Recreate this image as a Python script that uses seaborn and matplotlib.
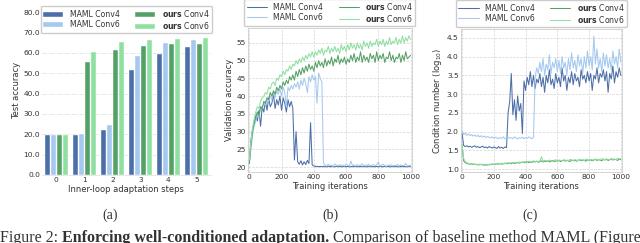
import numpy as np
import pandas as pd
import seaborn as sns
import matplotlib
matplotlib.use("Agg")
import matplotlib.pyplot as plt

# (a) test accuracy vs inner-loop steps
steps = ["0", "1", "2", "3", "4", "5"]
acc_maml4 = [19.8, 19.8, 22.2, 51.5, 59.5, 63.0]
acc_maml6 = [19.8, 20.2, 24.5, 58.5, 65.0, 66.5]
acc_ours4 = [19.8, 55.5, 61.5, 63.5, 64.3, 64.5]
acc_ours6 = [19.8, 60.2, 65.5, 66.5, 67.0, 67.2]

# (b) validation accuracy, every 10 training iterations
iters = list(range(0, 1001, 10))
val_maml4 = [21.0, 27.5, 30.5, 32.0, 34.5, 33.0, 36.0, 31.5, 37.0, 35.5,
             38.5, 36.0, 39.5, 37.0, 38.0, 40.5, 36.5, 39.0, 37.5, 40.0,
             36.0, 39.5, 38.0, 35.5, 39.0, 37.0, 38.5, 36.5, 22.0, 30.0,
             21.5, 20.8, 21.8, 20.6, 21.5, 20.7, 21.9, 21.0, 32.5, 20.6,
             20.3, 20.2, 20.2, 20.1, 20.2, 20.1, 20.2, 20.1, 20.1, 20.2,
             20.1, 20.2, 20.1, 20.1, 20.2, 20.1, 20.2, 20.1, 20.1, 20.2,
             20.1, 20.2, 20.1, 20.1, 20.2, 20.1, 20.2, 20.1, 20.1, 20.2,
             20.1, 20.2, 20.1, 20.1, 20.2, 20.1, 20.2, 20.1, 20.1, 20.2,
             20.1, 20.2, 20.1, 20.1, 20.2, 20.1, 20.2, 20.1, 20.1, 20.2,
             20.1, 20.2, 20.1, 20.1, 20.2, 20.1, 20.2, 20.1, 20.1, 20.2,
             20.1]
val_maml6 = [21.0, 25.0, 29.0, 31.5, 33.0, 35.5, 34.0, 37.0, 36.5, 38.0,
             37.5, 39.5, 38.5, 40.0, 39.0, 41.0, 39.5, 41.5, 40.5, 42.0,
             40.0, 42.5, 41.0, 37.0, 42.5, 41.5, 43.0, 42.0, 43.5, 42.5,
             44.0, 42.0, 44.5, 43.0, 45.0, 43.5, 41.0, 45.5, 44.0, 46.0,
             44.5, 45.5, 38.0, 46.5, 45.0, 44.0, 21.2, 20.5, 20.3, 20.8,
             20.4, 20.6, 20.2, 20.9, 20.5, 20.3, 20.7, 20.4, 20.6, 20.3,
             20.8, 20.5, 20.3, 21.7, 20.4, 20.6, 20.3, 20.7, 20.4, 20.5,
             20.9, 20.3, 20.6, 20.4, 20.8, 20.3, 20.5, 20.7, 20.4, 20.6,
             21.4, 20.3, 20.5, 20.8, 20.4, 20.2, 20.6, 20.4, 20.7, 20.3,
             20.5, 20.4, 20.8, 20.3, 20.6, 20.4, 20.5, 21.0, 20.3, 20.4,
             20.5]
val_ours4 = [21.0, 26.0, 30.0, 32.5, 34.0, 35.5, 34.5, 37.0, 36.5, 38.5,
             38.0, 39.5, 39.0, 41.0, 40.0, 41.5, 40.5, 42.5, 41.5, 43.0,
             42.0, 44.0, 43.0, 44.5, 43.5, 45.5, 44.5, 46.0, 44.5, 47.0,
             45.5, 47.5, 46.0, 48.0, 46.5, 48.5, 47.0, 49.0, 47.5, 48.5,
             47.0, 49.5, 48.0, 50.0, 48.5, 49.5, 48.0, 50.5, 48.5, 50.0,
             49.0, 51.0, 48.5, 50.5, 49.5, 51.5, 49.0, 50.5, 49.5, 51.0,
             49.0, 50.5, 49.5, 51.5, 50.0, 52.0, 49.5, 51.0, 50.0, 52.5,
             49.5, 51.5, 50.0, 51.0, 49.5, 52.0, 50.5, 51.5, 49.5, 52.5,
             50.0, 51.5, 50.5, 52.0, 49.5, 51.0, 50.5, 52.5, 50.0, 51.5,
             49.5, 51.0, 50.5, 52.0, 49.5, 51.5, 50.0, 52.5, 50.5, 51.0,
             51.5]
val_ours6 = [22.0, 27.0, 31.0, 33.5, 35.5, 37.0, 36.5, 38.5, 39.5, 40.0,
             41.0, 40.5, 42.5, 42.0, 43.5, 44.0, 43.0, 45.0, 44.5, 46.0,
             45.5, 47.0, 46.0, 47.5, 47.0, 48.5, 47.5, 49.0, 48.5, 50.0,
             49.0, 50.5, 49.5, 51.0, 50.0, 51.5, 50.5, 52.0, 51.0, 52.5,
             51.0, 52.5, 51.5, 53.0, 52.0, 53.5, 51.5, 53.0, 52.5, 54.0,
             52.0, 53.5, 52.5, 54.0, 52.5, 53.5, 52.0, 54.5, 53.0, 54.0,
             52.5, 54.5, 53.0, 55.0, 53.5, 54.5, 53.0, 55.0, 53.5, 54.5,
             53.0, 55.5, 54.0, 55.0, 53.5, 55.5, 54.0, 55.0, 54.5, 56.0,
             54.0, 55.5, 54.5, 56.0, 54.0, 55.5, 54.5, 56.5, 54.5, 55.5,
             55.0, 56.5, 54.5, 56.0, 55.0, 57.0, 55.0, 56.5, 55.5, 57.0,
             56.0]

# (c) condition number (log10)
cond_maml4 = [1.95, 1.63, 1.60, 1.62, 1.59, 1.61, 1.58, 1.60, 1.62, 1.58,
              1.60, 1.57, 1.59, 1.61, 1.57, 1.59, 1.56, 1.60, 1.58, 1.56,
              1.59, 1.57, 1.55, 1.60, 1.56, 1.58, 1.55, 1.59, 1.57, 2.50,
              2.80, 3.55, 2.45, 2.85, 2.30, 2.95, 2.55, 2.75, 1.95, 3.35,
              3.10, 3.45, 3.25, 3.60, 3.20, 3.50, 3.15, 3.40, 3.30, 3.55,
              3.20, 3.45, 3.05, 3.50, 3.30, 3.65, 3.25, 3.40, 3.15, 3.55,
              3.30, 3.45, 3.20, 3.70, 3.35, 3.50, 3.10, 3.45, 3.30, 3.60,
              3.25, 3.55, 3.35, 3.45, 3.20, 3.65, 3.40, 3.50, 3.30, 3.60,
              3.35, 3.55, 3.10, 3.50, 3.40, 3.70, 3.30, 3.55, 3.45, 3.65,
              3.35, 3.60, 3.05, 3.55, 3.40, 3.75, 3.30, 3.60, 3.45, 3.70,
              3.50]
cond_maml6 = [2.02, 1.92, 1.96, 1.90, 1.94, 1.89, 1.92, 1.88, 1.91, 1.87,
              1.90, 1.86, 1.89, 1.85, 1.88, 1.84, 1.87, 1.85, 1.83, 1.86,
              1.82, 1.85, 1.83, 1.81, 1.84, 1.82, 1.86, 1.81, 1.83, 1.85,
              1.82, 1.84, 1.81, 1.86, 1.83, 1.80, 1.84, 1.82, 1.85, 1.81,
              1.84, 1.82, 1.86, 1.83, 1.81, 1.85, 3.45, 3.70, 3.55, 3.85,
              3.60, 3.95, 3.50, 3.80, 3.65, 4.05, 3.55, 3.85, 3.70, 3.95,
              3.60, 3.90, 3.55, 4.00, 3.70, 3.85, 3.50, 3.95, 3.65, 4.10,
              3.70, 3.90, 3.60, 4.05, 3.75, 3.95, 3.55, 4.00, 3.70, 4.15,
              3.75, 4.00, 3.65, 4.55, 3.80, 4.20, 3.70, 3.95, 3.60, 4.10,
              3.75, 4.05, 3.70, 3.95, 3.65, 4.15, 3.80, 4.00, 3.70, 4.20,
              3.85]
cond_ours4 = [1.62, 1.22, 1.17, 1.15, 1.14, 1.13, 1.14, 1.12, 1.13, 1.12,
              1.11, 1.13, 1.12, 1.11, 1.12, 1.10, 1.12, 1.11, 1.13, 1.12,
              1.13, 1.12, 1.14, 1.13, 1.15, 1.13, 1.14, 1.16, 1.14, 1.15,
              1.16, 1.14, 1.17, 1.15, 1.16, 1.18, 1.16, 1.17, 1.19, 1.17,
              1.18, 1.20, 1.17, 1.19, 1.18, 1.20, 1.19, 1.21, 1.18, 1.20,
              1.22, 1.19, 1.21, 1.20, 1.22, 1.19, 1.21, 1.23, 1.20, 1.22,
              1.21, 1.23, 1.20, 1.22, 1.24, 1.21, 1.23, 1.22, 1.20, 1.24,
              1.22, 1.24, 1.21, 1.23, 1.25, 1.22, 1.24, 1.23, 1.21, 1.25,
              1.23, 1.25, 1.22, 1.24, 1.26, 1.23, 1.25, 1.24, 1.22, 1.26,
              1.24, 1.26, 1.23, 1.25, 1.27, 1.24, 1.26, 1.25, 1.23, 1.27,
              1.25]
cond_ours6 = [1.66, 1.28, 1.20, 1.17, 1.15, 1.14, 1.13, 1.14, 1.12, 1.13,
              1.12, 1.11, 1.13, 1.12, 1.10, 1.12, 1.11, 1.13, 1.12, 1.14,
              1.12, 1.14, 1.13, 1.15, 1.14, 1.16, 1.15, 1.14, 1.16, 1.17,
              1.15, 1.17, 1.16, 1.18, 1.17, 1.16, 1.19, 1.18, 1.17, 1.19,
              1.20, 1.18, 1.21, 1.19, 1.20, 1.22, 1.19, 1.21, 1.20, 1.22,
              1.33, 1.21, 1.23, 1.22, 1.20, 1.24, 1.22, 1.21, 1.23, 1.25,
              1.22, 1.24, 1.23, 1.21, 1.25, 1.23, 1.24, 1.22, 1.26, 1.24,
              1.23, 1.25, 1.24, 1.22, 1.26, 1.24, 1.25, 1.23, 1.27, 1.25,
              1.24, 1.26, 1.25, 1.23, 1.27, 1.25, 1.26, 1.24, 1.28, 1.26,
              1.25, 1.27, 1.26, 1.24, 1.28, 1.26, 1.27, 1.25, 1.29, 1.27,
              1.28]

names = ["MAML Conv4", "MAML Conv6", "ours Conv4", "ours Conv6"]
labels = ["MAML Conv4", "MAML Conv6", r"$\bf{ours}$ Conv4", r"$\bf{ours}$ Conv6"]
colors = ["#4c6fa8", "#a4c8ef", "#55a066", "#8ee0a0"]

sns.set_theme(style="whitegrid")
plt.rcParams["font.family"] = ["DejaVu Sans"]
plt.rcParams["text.color"] = "#333333"
plt.rcParams["axes.labelcolor"] = "#333333"
plt.rcParams["xtick.color"] = "#333333"
plt.rcParams["ytick.color"] = "#333333"

tick_fs = 5.4
label_fs = 6.0
leg_fs = 5.6

fig = plt.figure(figsize=(6.4, 2.43), dpi=100)
ax1 = fig.add_axes([0.066, 0.28, 0.263, 0.695])
ax2 = fig.add_axes([0.3875, 0.292, 0.256, 0.593])
ax3 = fig.add_axes([0.72, 0.292, 0.252, 0.589])

leg_kw = dict(ncol=2, fontsize=leg_fs, frameon=True, handlelength=2.6,
              columnspacing=2.0, borderpad=0.3, labelspacing=0.12,
              edgecolor="#cccccc", framealpha=1)

# ---- (a) bars
df_bar = pd.DataFrame({
    "step": steps * 4,
    "acc": acc_maml4 + acc_maml6 + acc_ours4 + acc_ours6,
    "method": sum([[n] * len(steps) for n in names], []),
})
sns.barplot(data=df_bar, x="step", y="acc", hue="method", hue_order=names,
            palette=colors, ax=ax1, width=0.85, gap=0.12, saturation=1,
            edgecolor="white", linewidth=0.3, legend=True)
ax1.set_ylim(0, 83)
ax1.set_yticks(np.arange(0, 81, 10))
ax1.set_yticklabels([f"{v:.1f}" for v in np.arange(0, 81, 10)])
ax1.set_xlabel("Inner-loop adaptation steps", fontsize=label_fs, labelpad=1.5)
ax1.set_ylabel("Test accuracy", fontsize=label_fs, labelpad=2)
ax1.grid(axis="y", linestyle="-.", color="#dddddd", linewidth=0.5)
ax1.grid(axis="x", visible=False)
for s in ["left", "right", "top"]:
    ax1.spines[s].set_visible(False)
ax1.spines["bottom"].set_color("#dddddd")
ax1.spines["bottom"].set_linewidth(0.5)
h, _ = ax1.get_legend_handles_labels()
ax1.legend(h, labels, loc="upper center", bbox_to_anchor=(0.5, 1.025), **leg_kw)

# ---- (b) validation accuracy
df_val = pd.DataFrame({
    "it": iters * 4,
    "v": val_maml4 + val_maml6 + val_ours4 + val_ours6,
    "method": sum([[n] * len(iters) for n in names], []),
})
sns.lineplot(data=df_val, x="it", y="v", hue="method", hue_order=names,
             palette=colors, ax=ax2, linewidth=0.75, legend=True)
ax2.set_xlim(-8, 1008)
ax2.set_ylim(18.6, 59.2)
ax2.set_yticks(np.arange(20, 56, 5))
ax2.set_xticks(np.arange(0, 1001, 200))
ax2.set_xlabel("Training iterations", fontsize=label_fs, labelpad=1.5)
ax2.set_ylabel("Validation accuracy", fontsize=label_fs, labelpad=2)

# ---- (c) condition number
df_cond = pd.DataFrame({
    "it": iters * 4,
    "c": cond_maml4 + cond_maml6 + cond_ours4 + cond_ours6,
    "method": sum([[n] * len(iters) for n in names], []),
})
sns.lineplot(data=df_cond, x="it", y="c", hue="method", hue_order=names,
             palette=colors, ax=ax3, linewidth=0.75, legend=True)
ax3.set_xlim(-8, 1008)
ax3.set_ylim(0.92, 4.74)
ax3.set_yticks(np.arange(1.0, 4.6, 0.5))
ax3.set_xticks(np.arange(0, 1001, 200))
ax3.set_xlabel("Training iterations", fontsize=label_fs, labelpad=1.5)
ax3.set_ylabel(r"Condition number (log$_{10}$)", fontsize=label_fs, labelpad=2)

for ax in (ax2, ax3):
    ax.grid(True, linestyle="--", color="#d5d5d5", linewidth=0.5)
    for s in ax.spines.values():
        s.set_color("#cccccc")
        s.set_linewidth(0.6)
    h, _ = ax.get_legend_handles_labels()
    ax.legend(h, labels, loc="lower center", bbox_to_anchor=(0.5, 0.985), **leg_kw)

for ax in (ax1, ax2, ax3):
    ax.tick_params(labelsize=tick_fs, pad=1.5, length=0)

# panel captions
serif = ["Liberation Serif", "DejaVu Serif"]
fig.text(0.172, 0.115, "(a)", family=serif, fontsize=10, ha="center", va="center")
fig.text(0.516, 0.115, "(b)", family=serif, fontsize=10, ha="center", va="center")
fig.text(0.828, 0.115, "(c)", family=serif, fontsize=10, ha="center", va="center")

# figure caption (cut off at the bottom edge)
fig.canvas.draw()
r = fig.canvas.get_renderer()
x = 0.0
for txt, w in [("Figure 2: ", "normal"),
               ("Enforcing well-conditioned adaptation.", "bold"),
               (" Comparison of baseline method MAML (Figure", "normal")]:
    t = fig.text(x, 0.004, txt, family=serif, fontsize=11.5, weight=w,
                 ha="left", va="baseline")
    bb = t.get_window_extent(renderer=r)
    x = bb.x1 / fig.bbox.width

fig.savefig("out.png", dpi=100)
